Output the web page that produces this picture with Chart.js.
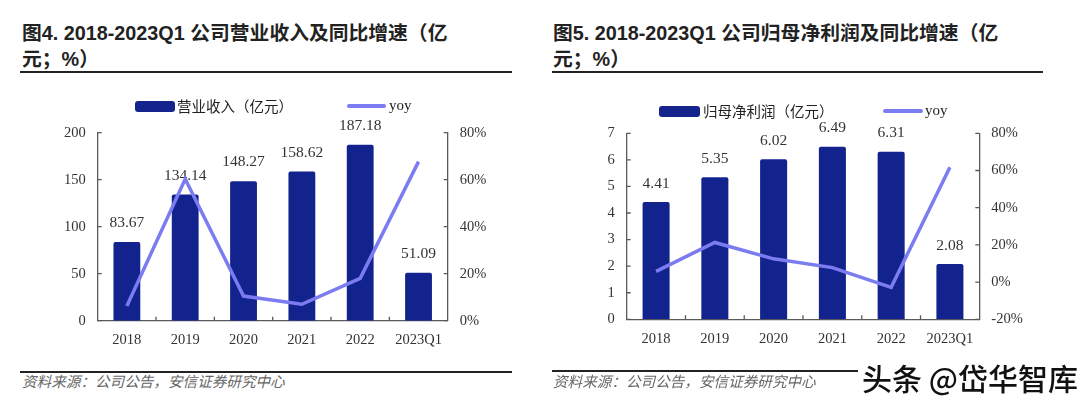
<!DOCTYPE html>
<html>
<head>
<meta charset="utf-8">
<script src="https://cdn.jsdelivr.net/npm/chart.js@4/dist/chart.umd.min.js"></script>
<style>
  body { margin: 0; width: 1080px; height: 405px; background: #fff; overflow: hidden; position: relative; }
  .abs { position: absolute; }
  .title { font: bold 19.8px "Liberation Sans", "Noto Sans CJK SC", sans-serif; color: #222; line-height: 26px; white-space: nowrap; }
  .rule { height: 2px; background: #222; }
  .src { font: italic 14.6px "Noto Sans CJK SC", sans-serif; color: #666; line-height: 18px; white-space: nowrap; }
  .lg { font: 14.5px "Noto Sans CJK SC", serif; color: #222; line-height: 18px; white-space: nowrap; }
  .lgs { font: 15px "Liberation Serif", serif; color: #222; line-height: 18px; }
  .sw { height: 11px; background: #14248c; border-radius: 3px; }
  .ln { height: 4px; background: #7b7cf2; border-radius: 2px; }
  canvas { position: absolute; }
</style>
</head>
<body>
<div class="abs title" style="left:22px;top:20px">图4. 2018-2023Q1 公司营业收入及同比增速（亿<br>元；%）</div>
<div class="abs title" style="left:553px;top:20px">图5. 2018-2023Q1 公司归母净利润及同比增速（亿<br>元；%）</div>
<div class="abs rule" style="left:20px;top:71px;width:492px"></div>
<div class="abs rule" style="left:552px;top:71px;width:491px"></div>

<div style="position:absolute;left:0;top:80px;width:540px;height:280px"><canvas id="c1"></canvas></div>
<div style="position:absolute;left:540px;top:80px;width:540px;height:280px"><canvas id="c2"></canvas></div>

<!-- 图例 -->
<div class="abs sw" style="left:135px;top:101px;width:40px"></div>
<div class="abs lg" style="left:177px;top:97px">营业收入（亿元）</div>
<div class="abs ln" style="left:347px;top:104px;width:39px"></div>
<div class="abs lgs" style="left:389px;top:96px">yoy</div>

<div class="abs sw" style="left:659px;top:106px;width:41px"></div>
<div class="abs lg" style="left:703px;top:102px">归母净利润（亿元）</div>
<div class="abs ln" style="left:883px;top:109px;width:40px"></div>
<div class="abs lgs" style="left:925px;top:101px">yoy</div>

<div class="abs rule" style="left:20px;top:371px;width:492px"></div>
<div class="abs rule" style="left:552px;top:370px;width:491px"></div>
<div class="abs src" style="left:22px;top:372px">资料来源：公司公告，安信证券研究中心</div>
<div class="abs src" style="left:553px;top:372px">资料来源：公司公告，安信证券研究中心</div>
<div class="abs" style="left:858px;top:358px;padding:0 4px;background:#fff;font:500 30px 'Noto Sans CJK SC',sans-serif;color:#111;line-height:38px;white-space:nowrap">头条 @岱华智库</div>

<script>
// 数据
const years = ['2018', '2019', '2020', '2021', '2022', '2023Q1'];
const revenue = [83.67, 134.14, 148.27, 158.62, 187.18, 51.09];
const revenueYoy = [6.3, 60.3, 10.5, 7.0, 18.0, 67.7];
const profit = [4.41, 5.35, 6.02, 6.49, 6.31, 2.08];
const profitYoy = [5.8, 21.3, 12.5, 7.8, -2.8, 61.7];

const BAR = '#13238e';
const LINE = '#7b7cf2';
const AXIS = '#5a5a5a';
const TXT = '#333';
const serif = '"Liberation Serif", "DejaVu Serif", serif';

// 柱顶数值标签（在折线之前绘制）
const barLabels = {
    id: 'barLabels',
    afterDatasetDraw(chart, args) {
        if (args.index !== 0) return;
        const ctx = chart.ctx;
        const ds = chart.data.datasets[0];
        const off = chart.options.plugins.barLabels.offset;
        ctx.save();
        ctx.font = '15.5px ' + serif;
        ctx.fillStyle = TXT;
        ctx.textAlign = 'center';
        ctx.textBaseline = 'middle';
        args.meta.data.forEach((bar, i) => {
            ctx.fillText(String(ds.data[i].toFixed(2)), bar.x, bar.y - off);
        });
        ctx.restore();
    }
};

// 向内的刻度线
const innerTicks = {
    id: 'innerTicks',
    afterDraw(chart) {
        const ctx = chart.ctx;
        const { x, y, y1 } = chart.scales;
        ctx.save();
        ctx.strokeStyle = AXIS;
        ctx.lineWidth = 1.3;
        ctx.beginPath();
        y.ticks.forEach(t => {
            const py = y.getPixelForValue(t.value);
            ctx.moveTo(x.left, py); ctx.lineTo(x.left + 4, py);
        });
        y1.ticks.forEach(t => {
            const py = y1.getPixelForValue(t.value);
            ctx.moveTo(x.right, py); ctx.lineTo(x.right - 4, py);
        });
        for (let i = 0; i < years.length - 1; i++) {
            const px = (x.getPixelForValue(i) + x.getPixelForValue(i + 1)) / 2;
            ctx.moveTo(px, y.bottom); ctx.lineTo(px, y.bottom - 4);
        }
        ctx.stroke();
        ctx.restore();
    }
};

function makeChart(id, bars, yoy, yMax, yStep, y1Min, box, labelOff) {
    return new Chart(document.getElementById(id), {
        type: 'bar',
        data: {
            labels: years,
            datasets: [{
                type: 'bar',
                data: bars,
                backgroundColor: BAR,
                borderRadius: 2,
                borderSkipped: 'bottom',
                categoryPercentage: 1,
                barPercentage: 0.46,
                yAxisID: 'y',
                order: 1
            }, {
                type: 'line',
                data: yoy,
                borderColor: LINE,
                borderWidth: 3.5,
                pointRadius: 0,
                tension: 0,
                fill: false,
                yAxisID: 'y1',
                order: 0
            }]
        },
        options: {
            responsive: true,
            maintainAspectRatio: false,
            animation: false,
            layout: { padding: { top: box.top, left: 0, right: 0, bottom: 0 } },
            plugins: {
                legend: { display: false },
                tooltip: { enabled: false },
                barLabels: { offset: labelOff }
            },
            scales: {
                x: {
                    grid: { display: false, drawTicks: false },
                    border: { color: AXIS, width: 1.3 },
                    ticks: { color: TXT, font: { family: serif, size: 14.5 }, padding: 11, maxRotation: 0 },
                    afterFit(s) { s.height = box.xh; }
                },
                y: {
                    position: 'left',
                    min: 0, max: yMax,
                    grid: { display: false, drawTicks: false },
                    border: { color: AXIS, width: 1.3 },
                    ticks: { stepSize: yStep, color: TXT, font: { family: serif, size: 14.5 }, padding: 12 },
                    afterFit(s) { s.width = box.yl; }
                },
                y1: {
                    position: 'right',
                    min: y1Min, max: 80,
                    grid: { display: false, drawTicks: false },
                    border: { color: AXIS, width: 1.3 },
                    ticks: { stepSize: 20, color: TXT, font: { family: serif, size: 14.5 }, padding: 12,
                             callback: v => v + '%' },
                    afterFit(s) { s.width = box.yr; }
                }
            }
        },
        plugins: [barLabels, innerTicks]
    });
}

makeChart('c1', revenue, revenueYoy, 200, 50, 0, { top: 52.7, xh: 39.3, yl: 97.7, yr: 92.3 }, 19);
makeChart('c2', profit, profitYoy, 7, 1, -20, { top: 53.3, xh: 40.7, yl: 86.7, yr: 100.7 }, 18.5);
</script>
</body>
</html>
